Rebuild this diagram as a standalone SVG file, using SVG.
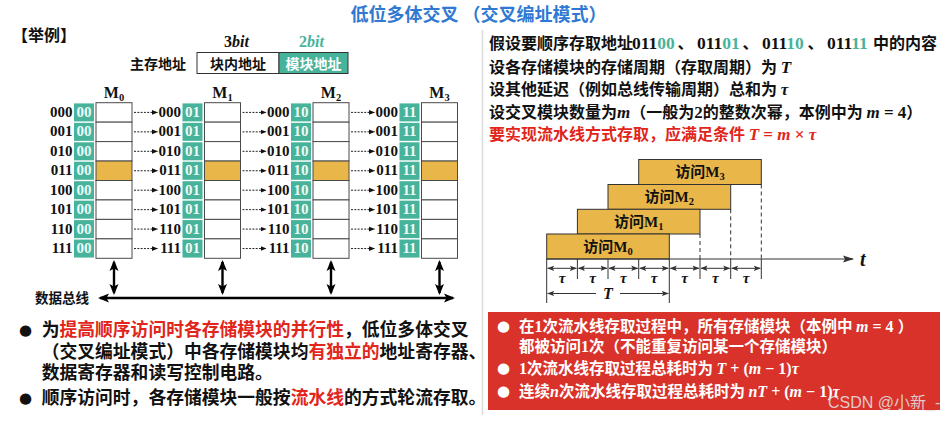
<svg xmlns="http://www.w3.org/2000/svg" width="947" height="421" viewBox="0 0 947 421">
<style>
.cj{font-family:"Noto Sans CJK SC",sans-serif;font-weight:700}
.sf{font-family:"Liberation Serif","Noto Sans CJK SC",serif;font-weight:700}
.it{font-family:"Liberation Serif",serif;font-style:italic;font-weight:700}
.rm{font-family:"Liberation Serif",serif;font-style:normal;font-weight:700}
.adr{font-family:"Liberation Serif",serif;font-weight:700;font-size:15px;fill:#111;text-anchor:end}
.tl{font-family:"Liberation Serif",serif;font-weight:700;font-size:15px;fill:#effaf6;text-anchor:middle}
.teal{fill:#47b39b}
.cell{fill:#fff;stroke:#4a4a4a;stroke-width:1}
.hl{fill:#e9b649;stroke:#4a4a4a;stroke-width:1}
.dash{stroke:#222;stroke-width:1;stroke-dasharray:2 1.3;marker-end:url(#sa)}
.va{stroke:#000;stroke-width:2.4;marker-start:url(#ba);marker-end:url(#ba)}
.bar{fill:#e9b649;stroke:#333;stroke-width:1}
.tk{stroke:#333;stroke-width:1}
.dl{stroke:#333;stroke-width:1;stroke-dasharray:4 3}
.ta{stroke:#333;stroke-width:1;marker-start:url(#ta);marker-end:url(#ta)}
.bul{font-family:"DejaVu Sans",sans-serif;font-size:15px}
.red{fill:#e1251b}
</style>
<defs>
<marker id="sa" markerUnits="userSpaceOnUse" markerWidth="6" markerHeight="6" refX="5.5" refY="3" orient="auto"><path d="M0,0.6 L6,3 L0,5.4 z" fill="#111"/></marker>
<marker id="ba" markerUnits="userSpaceOnUse" markerWidth="12" markerHeight="10" refX="9" refY="5" orient="auto-start-reverse"><path d="M0,0.5 L11,5 L0,9.5 L2.5,5 z" fill="#000"/></marker>
<marker id="ta" markerUnits="userSpaceOnUse" markerWidth="7" markerHeight="6" refX="6.5" refY="3" orient="auto-start-reverse"><path d="M0,0.3 L7,3 L0,5.7 L1.5,3 z" fill="#333"/></marker>
<marker id="axa" markerUnits="userSpaceOnUse" markerWidth="11" markerHeight="8" refX="10" refY="4" orient="auto"><path d="M0,0.5 L11,4 L0,7.5 L2,4 z" fill="#333"/></marker>
<g id="cells">
<rect class="cell" x="0" y="0" width="36" height="19.45"/>
<rect class="cell" x="0" y="19.45" width="36" height="19.45"/>
<rect class="cell" x="0" y="38.9" width="36" height="19.45"/>
<rect class="hl" x="0" y="58.35" width="36" height="19.45"/>
<rect class="cell" x="0" y="77.8" width="36" height="19.45"/>
<rect class="cell" x="0" y="97.25" width="36" height="19.45"/>
<rect class="cell" x="0" y="116.7" width="36" height="19.45"/>
<rect class="cell" x="0" y="136.15" width="36" height="19.45"/>
</g>
<g id="tcol" class="teal">
<rect x="0" y="0.7" width="20" height="18"/>
<rect x="0" y="20.15" width="20" height="18"/>
<rect x="0" y="39.6" width="20" height="18"/>
<rect x="0" y="59.05" width="20" height="18"/>
<rect x="0" y="78.5" width="20" height="18"/>
<rect x="0" y="97.95" width="20" height="18"/>
<rect x="0" y="117.4" width="20" height="18"/>
<rect x="0" y="136.85" width="20" height="18"/>
</g>
<text id="addr" class="adr"><tspan x="0" y="14.3">000</tspan><tspan x="0" y="33.75">001</tspan><tspan x="0" y="53.2">010</tspan><tspan x="0" y="72.65">011</tspan><tspan x="0" y="92.1">100</tspan><tspan x="0" y="111.55">101</tspan><tspan x="0" y="131">110</tspan><tspan x="0" y="150.45">111</tspan></text>
<g id="drow">
<line class="dash" x1="0" y1="9.7" x2="23.5" y2="9.7"/>
<line class="dash" x1="0" y1="29.15" x2="23.5" y2="29.15"/>
<line class="dash" x1="0" y1="48.6" x2="23.5" y2="48.6"/>
<line class="dash" x1="0" y1="68.05" x2="23.5" y2="68.05"/>
<line class="dash" x1="0" y1="87.5" x2="23.5" y2="87.5"/>
<line class="dash" x1="0" y1="106.95" x2="23.5" y2="106.95"/>
<line class="dash" x1="0" y1="126.4" x2="23.5" y2="126.4"/>
<line class="dash" x1="0" y1="145.85" x2="23.5" y2="145.85"/>
</g>
</defs>

<rect width="947" height="421" fill="#fff"/>

<!-- title -->
<text x="478.5" y="21" class="cj" font-size="18" font-weight="900" fill="#3079d2" text-anchor="middle">低位多体交叉 （交叉编址模式）</text>
<text x="12" y="41" class="cj" font-size="16" fill="#111">【举例】</text>

<!-- address format -->
<g id="addrfmt">
<text x="224" y="47" class="sf" font-size="16" fill="#111">3<tspan class="it">bit</tspan></text>
<text x="299" y="47" class="sf" font-size="16" fill="#47b39b">2<tspan class="it">bit</tspan></text>
<text x="130" y="68.5" class="cj" font-size="14" fill="#111">主存地址</text>
<rect x="197" y="52.5" width="82" height="21" fill="#fff" stroke="#333" stroke-width="1"/>
<rect x="279" y="52.5" width="69" height="21" fill="#47b39b" stroke="#333" stroke-width="1"/>
<text x="238" y="68.5" class="cj" font-size="14" fill="#111" text-anchor="middle">块内地址</text>
<text x="313.5" y="68.5" class="cj" font-size="14" fill="#fff" text-anchor="middle">模块地址</text>
</g>

<!-- modules -->
<g id="M0">
<text x="114" y="98" class="sf" font-size="16" fill="#111" text-anchor="middle">M<tspan font-size="10.5" dy="3">0</tspan></text>
<use href="#cells" x="96" y="102.7"/>
<use href="#tcol" x="74" y="102.7"/>
<use href="#addr" x="72.5" y="102.7"/>
<text class="tl"><tspan x="84" y="117">00</tspan><tspan x="84" y="136.45">00</tspan><tspan x="84" y="155.9">00</tspan><tspan x="84" y="175.35">00</tspan><tspan x="84" y="194.8">00</tspan><tspan x="84" y="214.25">00</tspan><tspan x="84" y="233.7">00</tspan><tspan x="84" y="253.15">00</tspan></text>
</g>
<g id="M1">
<text x="222.5" y="98" class="sf" font-size="16" fill="#111" text-anchor="middle">M<tspan font-size="10.5" dy="3">1</tspan></text>
<use href="#cells" x="204.5" y="102.7"/>
<use href="#tcol" x="182.5" y="102.7"/>
<use href="#addr" x="181" y="102.7"/>
<text class="tl"><tspan x="192.5" y="117">01</tspan><tspan x="192.5" y="136.45">01</tspan><tspan x="192.5" y="155.9">01</tspan><tspan x="192.5" y="175.35">01</tspan><tspan x="192.5" y="194.8">01</tspan><tspan x="192.5" y="214.25">01</tspan><tspan x="192.5" y="233.7">01</tspan><tspan x="192.5" y="253.15">01</tspan></text>
</g>
<g id="M2">
<text x="331" y="98" class="sf" font-size="16" fill="#111" text-anchor="middle">M<tspan font-size="10.5" dy="3">2</tspan></text>
<use href="#cells" x="313" y="102.7"/>
<use href="#tcol" x="291" y="102.7"/>
<use href="#addr" x="289.5" y="102.7"/>
<text class="tl"><tspan x="301" y="117">10</tspan><tspan x="301" y="136.45">10</tspan><tspan x="301" y="155.9">10</tspan><tspan x="301" y="175.35">10</tspan><tspan x="301" y="194.8">10</tspan><tspan x="301" y="214.25">10</tspan><tspan x="301" y="233.7">10</tspan><tspan x="301" y="253.15">10</tspan></text>
</g>
<g id="M3">
<text x="439.5" y="98" class="sf" font-size="16" fill="#111" text-anchor="middle">M<tspan font-size="10.5" dy="3">3</tspan></text>
<use href="#cells" x="421.5" y="102.7"/>
<use href="#tcol" x="399.5" y="102.7"/>
<use href="#addr" x="398" y="102.7"/>
<text class="tl"><tspan x="409.5" y="117">11</tspan><tspan x="409.5" y="136.45">11</tspan><tspan x="409.5" y="155.9">11</tspan><tspan x="409.5" y="175.35">11</tspan><tspan x="409.5" y="194.8">11</tspan><tspan x="409.5" y="214.25">11</tspan><tspan x="409.5" y="233.7">11</tspan><tspan x="409.5" y="253.15">11</tspan></text>
</g>

<g id="bus">
<text x="35" y="302.5" class="cj" font-size="13.5" fill="#111">数据总线</text>
</g>

<!-- connectors -->
<g id="connectors">
<use href="#drow" x="134" y="102.7"/>
<use href="#drow" x="242.5" y="102.7"/>
<use href="#drow" x="351" y="102.7"/>
<line class="va" x1="114" y1="262" x2="114" y2="293"/>
<line class="va" x1="222.5" y1="262" x2="222.5" y2="293"/>
<line class="va" x1="331" y1="262" x2="331" y2="293"/>
<line class="va" x1="439.5" y1="262" x2="439.5" y2="293"/>
<line class="va" x1="100" y1="298" x2="453" y2="298"/>
</g>

<!-- left bullets -->
<g id="leftText" class="cj" fill="#111">
<text x="19" y="335" class="bul">●</text>
<text x="19" y="403" class="bul">●</text>
<text x="41.7" y="336" font-size="17.8">为<tspan class="red">提高顺序访问时各存储模块的并行性</tspan>，低位多体交叉</text>
<text x="41.7" y="358" font-size="17.8">（交叉编址模式）中各存储模块均<tspan class="red">有独立的</tspan>地址寄存器、</text>
<text x="41.7" y="378.5" font-size="17.8">数据寄存器和读写控制电路。</text>
<text x="41.7" y="404" font-size="17.8">顺序访问时，各存储模块一般按<tspan class="red">流水线</tspan>的方式轮流存取。</text>
</g>

<line x1="482.5" y1="30" x2="482.5" y2="415" stroke="#dcdcdc" stroke-width="1.5"/>

<!-- right text -->
<g id="rightText" class="cj" fill="#111" font-size="16">
<text x="489" y="49">假设要顺序存取地址<tspan x="632" class="rm" font-size="17.5">011<tspan fill="#47b39b">00</tspan></tspan><tspan x="677.5">、</tspan><tspan x="697" class="rm" font-size="17.5">011<tspan fill="#47b39b">01</tspan></tspan><tspan x="742.5">、</tspan><tspan x="762" class="rm" font-size="17.5">011<tspan fill="#47b39b">10</tspan></tspan><tspan x="807.5">、</tspan><tspan x="827" class="rm" font-size="17.5">011<tspan fill="#47b39b">11</tspan></tspan><tspan x="873">中的内容</tspan></text>
<text x="489" y="73">设各存储模块的存储周期（存取周期）为 <tspan class="it" font-size="17">T</tspan></text>
<text x="489" y="95">设其他延迟（例如总线传输周期）总和为 <tspan class="it" font-size="17">τ</tspan></text>
<text x="489" y="118">设交叉模块数量为<tspan class="it" font-size="17">m</tspan>（一般为<tspan class="rm" font-size="17">2</tspan>的整数次幂，本例中为 <tspan class="it" font-size="17">m</tspan><tspan class="rm" font-size="17"> = 4</tspan>）</text>
<text x="489" y="140" class="cj red">要实现流水线方式存取，应满足条件 <tspan class="it" font-size="17">T</tspan><tspan class="rm" font-size="17"> = </tspan><tspan class="it" font-size="17">m</tspan><tspan class="rm" font-size="17"> × </tspan><tspan class="it" font-size="17">τ</tspan></text>
</g>

<!-- timing diagram -->
<g id="bar3"><rect class="bar" x="638.7" y="159.5" width="122.6" height="25"/><text x="700" y="177" class="cj" font-size="15" fill="#111" text-anchor="middle">访问<tspan class="rm">M</tspan><tspan class="rm" font-size="10.5" dy="3">3</tspan></text></g>
<g id="bar2"><rect class="bar" x="608" y="184.5" width="122.7" height="24.8"/><text x="669.3" y="202" class="cj" font-size="15" fill="#111" text-anchor="middle">访问<tspan class="rm">M</tspan><tspan class="rm" font-size="10.5" dy="3">2</tspan></text></g>
<g id="bar1"><rect class="bar" x="577.4" y="209.3" width="122.6" height="24.7"/><text x="638.7" y="227" class="cj" font-size="15" fill="#111" text-anchor="middle">访问<tspan class="rm">M</tspan><tspan class="rm" font-size="10.5" dy="3">1</tspan></text></g>
<g id="bar0"><rect class="bar" x="546.7" y="234" width="122.6" height="25"/><text x="608" y="252" class="cj" font-size="15" fill="#111" text-anchor="middle">访问<tspan class="rm">M</tspan><tspan class="rm" font-size="10.5" dy="3">0</tspan></text></g>

<g id="timeAxis">
<line x1="546.7" y1="259" x2="853" y2="259" stroke="#333" stroke-width="1.2" marker-end="url(#axa)"/>
<text x="860" y="266" class="it" font-size="20" fill="#111">t</text>
<line class="dl" x1="700" y1="234" x2="700" y2="259"/>
<line class="dl" x1="730.7" y1="209.3" x2="730.7" y2="259"/>
<line class="dl" x1="761.3" y1="184.5" x2="761.3" y2="259"/>
<line class="tk" x1="546.7" y1="259" x2="546.7" y2="303"/>
<line class="tk" x1="577.4" y1="259" x2="577.4" y2="279"/>
<line class="tk" x1="608" y1="259" x2="608" y2="279"/>
<line class="tk" x1="638.7" y1="259" x2="638.7" y2="279"/>
<line class="tk" x1="669.3" y1="259" x2="669.3" y2="303"/>
<line class="tk" x1="700" y1="259" x2="700" y2="279"/>
<line class="tk" x1="730.7" y1="259" x2="730.7" y2="279"/>
<line class="tk" x1="761.3" y1="259" x2="761.3" y2="279"/>
<line class="ta" x1="547.7" y1="268.3" x2="576.4" y2="268.3"/>
<line class="ta" x1="578.4" y1="268.3" x2="607" y2="268.3"/>
<line class="ta" x1="609" y1="268.3" x2="637.7" y2="268.3"/>
<line class="ta" x1="639.7" y1="268.3" x2="668.3" y2="268.3"/>
<line class="ta" x1="670.3" y1="268.3" x2="699" y2="268.3"/>
<line class="ta" x1="701" y1="268.3" x2="729.7" y2="268.3"/>
<line class="ta" x1="731.7" y1="268.3" x2="760.3" y2="268.3"/>
<g class="it" font-size="15" fill="#111" text-anchor="middle">
<text x="562" y="283">τ</text><text x="592.7" y="283">τ</text><text x="623.3" y="283">τ</text><text x="654" y="283">τ</text><text x="684.7" y="283">τ</text><text x="715.3" y="283">τ</text><text x="746" y="283">τ</text>
<text x="608" y="299" font-size="16">T</text>
</g>
<line x1="547.7" y1="293.5" x2="596" y2="293.5" stroke="#333" stroke-width="1" marker-start="url(#ta)"/>
<line x1="620" y1="293.5" x2="668.3" y2="293.5" stroke="#333" stroke-width="1" marker-end="url(#ta)"/>
</g>

<!-- red box -->
<g id="redBox">
<rect x="488" y="312" width="452" height="98" fill="#d8322a"/>
<g fill="#fff">
<text x="497" y="331" class="bul">●</text>
<text x="497" y="373" class="bul">●</text>
<text x="497" y="396" class="bul">●</text>
<g class="cj" font-size="15.5">
<text x="519" y="332">在<tspan class="rm" font-size="16">1</tspan>次流水线存取过程中，所有存储模块（本例中 <tspan class="it" font-size="16">m</tspan><tspan class="rm" font-size="16"> = 4 </tspan>）</text>
<text x="519" y="352">都被访问<tspan class="rm" font-size="16">1</tspan>次（不能重复访问某一个存储模块）</text>
<text x="519" y="374"><tspan class="rm" font-size="16">1</tspan>次流水线存取过程总耗时为 <tspan class="it" font-size="16">T</tspan><tspan class="rm" font-size="16"> + (</tspan><tspan class="it" font-size="16">m</tspan><tspan class="rm" font-size="16"> − 1)</tspan><tspan class="it" font-size="16">τ</tspan></text>
<text x="519" y="397">连续<tspan class="it" font-size="16">n</tspan>次流水线存取过程总耗时为 <tspan class="it" font-size="16">nT</tspan><tspan class="rm" font-size="16"> + (</tspan><tspan class="it" font-size="16">m</tspan><tspan class="rm" font-size="16"> − 1)</tspan><tspan class="it" font-size="16">τ</tspan></text>
</g>
</g>
</g>

<text x="828" y="408" font-family="'Liberation Sans','Noto Sans CJK SC',sans-serif" font-size="16" fill="#e6e6e6" fill-opacity="0.85">CSDN @小新_-</text>
</svg>
